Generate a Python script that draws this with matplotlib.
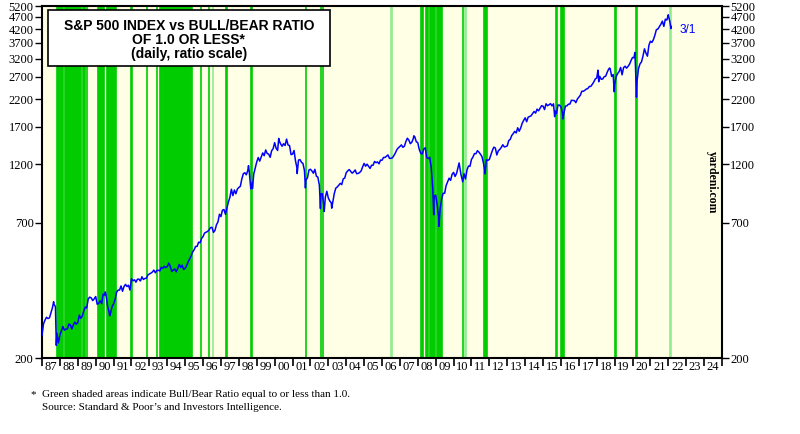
import numpy as np
import matplotlib
matplotlib.use('Agg')
import matplotlib.pyplot as plt
from matplotlib.patches import Rectangle

spx_start = 1987
spx_87_91 = [274.08, 284.20, 291.70, 288.36, 290.10, 304.00, 318.66, 329.80, 321.83, 251.79, 230.30, 247.08,
             257.07, 267.82, 258.89, 261.33, 262.16, 273.50, 272.02, 261.52, 271.91, 278.97, 273.70, 277.72,
             297.47, 288.86, 294.87, 309.64, 320.52, 317.98, 346.08, 351.45, 349.15, 340.36, 345.99, 353.40,
             329.08, 331.89, 339.94, 330.80, 361.23, 358.02, 356.15, 322.56, 306.05, 304.00, 322.22, 330.22,
             343.93, 367.07, 375.22, 375.35, 389.83, 371.16, 387.81, 395.43, 387.86, 392.46, 375.22, 417.09]
spx_92_96 = [408.79, 412.70, 403.69, 414.95, 415.35, 408.14, 424.21, 414.03, 417.80, 418.68, 431.35, 435.71,
             438.78, 443.38, 451.67, 440.19, 450.19, 450.53, 448.13, 463.56, 458.93, 467.83, 461.79, 466.45,
             481.61, 467.14, 445.77, 450.91, 456.50, 444.27, 458.26, 475.49, 462.69, 472.35, 453.69, 459.27,
             470.42, 487.39, 500.71, 514.71, 533.40, 544.75, 562.06, 561.88, 584.41, 581.50, 605.37, 615.93,
             636.02, 640.43, 645.50, 654.17, 669.12, 670.63, 639.95, 651.99, 687.31, 705.27, 757.02, 740.74]
spx_97_01 = [786.16, 790.82, 757.12, 801.34, 848.28, 885.14, 954.29, 899.47, 947.28, 914.62, 955.40, 970.43,
             980.28, 1049.34, 1101.75, 1111.75, 1090.82, 1133.84, 1120.67, 957.28, 1017.01, 1098.67, 1163.63, 1229.23,
             1279.64, 1238.33, 1286.37, 1335.18, 1301.84, 1372.71, 1328.72, 1320.41, 1282.71, 1362.93, 1388.91, 1469.25,
             1394.46, 1366.42, 1498.58, 1452.43, 1420.60, 1454.60, 1430.83, 1517.68, 1436.51, 1429.40, 1314.95, 1320.28,
             1366.01, 1239.94, 1160.33, 1249.46, 1255.82, 1224.38, 1211.23, 1133.58, 1040.94, 1059.78, 1139.45, 1148.08]
spx_02_06 = [1130.20, 1106.73, 1147.39, 1076.92, 1067.14, 989.82, 911.62, 916.07, 815.28, 885.76, 936.31, 879.82,
             855.70, 841.15, 848.18, 916.92, 963.59, 974.50, 990.31, 1008.01, 995.97, 1050.71, 1058.20, 1111.92,
             1131.13, 1144.94, 1126.21, 1107.30, 1120.68, 1140.84, 1101.72, 1104.24, 1114.58, 1130.20, 1173.82, 1211.92,
             1181.27, 1203.60, 1180.59, 1156.85, 1191.50, 1191.33, 1234.18, 1220.33, 1228.81, 1207.01, 1249.48, 1248.29,
             1280.08, 1280.66, 1294.83, 1310.61, 1270.09, 1270.20, 1276.66, 1303.82, 1335.85, 1377.94, 1400.63, 1418.30]
spx_07_11 = [1438.24, 1406.82, 1420.86, 1482.37, 1530.62, 1503.35, 1455.27, 1473.99, 1526.75, 1549.38, 1481.14, 1468.36,
             1378.55, 1330.63, 1322.70, 1385.59, 1400.38, 1280.00, 1267.38, 1282.83, 1166.36, 968.75, 896.24, 903.25,
             825.88, 735.09, 797.87, 872.81, 919.14, 919.32, 987.48, 1020.62, 1057.08, 1036.19, 1095.63, 1115.10,
             1073.87, 1104.49, 1169.43, 1186.69, 1089.41, 1030.71, 1101.60, 1049.33, 1141.20, 1183.26, 1180.55, 1257.64,
             1286.12, 1327.22, 1325.83, 1363.61, 1345.20, 1320.64, 1292.28, 1218.89, 1131.42, 1253.30, 1246.96, 1257.60]
spx_12_16 = [1312.41, 1365.68, 1408.47, 1397.91, 1310.33, 1362.16, 1379.32, 1406.58, 1440.67, 1412.16, 1416.18, 1426.19,
             1498.11, 1514.68, 1569.19, 1597.57, 1630.74, 1606.28, 1685.73, 1632.97, 1681.55, 1756.54, 1805.81, 1848.36,
             1782.59, 1859.45, 1872.34, 1883.95, 1923.57, 1960.23, 1930.67, 2003.37, 1972.29, 2018.05, 2067.56, 2058.90,
             1994.99, 2104.50, 2067.89, 2085.51, 2107.39, 2063.11, 2103.84, 1972.18, 1920.03, 2079.36, 2080.41, 2043.94,
             1940.24, 1932.23, 2059.74, 2065.30, 2096.95, 2098.86, 2173.60, 2170.95, 2168.27, 2126.15, 2198.81, 2238.83]
spx_17_22 = [2278.87, 2363.64, 2362.72, 2384.20, 2411.80, 2423.41, 2470.30, 2471.65, 2519.36, 2575.26, 2647.58, 2673.61,
             2823.81, 2713.83, 2640.87, 2648.05, 2705.27, 2718.37, 2816.29, 2901.52, 2913.98, 2711.74, 2760.17, 2506.85,
             2704.10, 2784.49, 2834.40, 2945.83, 2752.06, 2941.76, 2980.38, 2926.46, 2976.74, 3037.56, 3140.98, 3230.78,
             3225.52, 2954.22, 2584.59, 2912.43, 3044.31, 3100.29, 3271.12, 3500.31, 3363.00, 3269.96, 3621.63, 3756.07,
             3714.24, 3811.15, 3972.89, 4181.17, 4204.11, 4297.50, 4395.26, 4522.68, 4307.54, 4605.38, 4567.00, 4766.18,
             4515.55]

# intra-month highs/lows (decimal year, value)
extreme_dates = [1987.00, 1987.65, 1987.80, 1990.54, 1990.78, 1998.54, 1998.76, 2000.23, 2001.26, 2001.72,
                 2002.56, 2002.77, 2003.19, 2007.78, 2008.89, 2009.18, 2010.31, 2010.51, 2011.76, 2015.65,
                 2016.11, 2018.07, 2018.11, 2018.72, 2018.98, 2020.13, 2020.22, 2022.00, 2022.145, 2022.164]
extreme_vals = [246.45, 336.77, 224.84, 368.95, 295.46, 1186.75, 959.44, 1527.46, 1103.25, 965.80,
                797.70, 776.76, 800.73, 1565.15, 752.44, 676.53, 1217.28, 1022.58, 1099.23, 1867.61,
                1829.08, 2872.87, 2581.00, 2930.75, 2351.10, 3386.15, 2237.40, 4796.56, 4225.50, 4306.26]

# Bull/Bear ratio <= 1.0 periods (decimal years)
bb_low = [(1987.84, 1988.00), (1988.06, 1988.19), (1988.28, 1989.18), (1989.31, 1989.42), (1989.52, 1989.54),
          (1990.15, 1990.46), (1990.61, 1991.12), (1992.00, 1992.02), (1992.84, 1992.86), (1993.40, 1993.42),
          (1993.59, 1993.69), (1993.78, 1994.30), (1994.34, 1995.27), (1995.35, 1995.37), (1995.87, 1995.89),
          (1996.34, 1996.36), (1997.31, 1997.33), (1998.69, 1998.73), (2001.74, 2001.76), (2002.58, 2002.60),
          (2002.71, 2002.73), (2008.20, 2008.30), (2008.45, 2008.56), (2008.68, 2008.96), (2009.05, 2009.36),
          (2010.53, 2010.55), (2011.70, 2011.84), (2015.71, 2015.79), (2016.03, 2016.16), (2019.04, 2019.06),
          (2020.21, 2020.23)]
bb_light = [(1996.56, 1996.58), (2006.53, 2006.55), (2010.66, 2010.68), (2022.12, 2022.14)]

years = list(range(1987, 2025))
year_labels = ['%02d' % (y % 100) for y in years]
y_ticks = [200, 700, 1200, 1700, 2200, 2700, 3200, 3700, 4200, 4700, 5200]

# build the series
monthly = spx_87_91 + spx_92_96 + spx_97_01 + spx_02_06 + spx_07_11 + spx_12_16 + spx_17_22
m_dates = [spx_start + (i + 1) / 12.0 for i in range(len(monthly))]
x = np.array(m_dates + extreme_dates)
y = np.array(monthly + extreme_vals)
order = np.argsort(x)
x, y = x[order], y[order]

fig = plt.figure(figsize=(8, 4.34), dpi=100)
ax = fig.add_axes([0.0525, 0.175, 0.85, 0.811])
ax.set_facecolor('#FFFFE6')

for a, b in bb_low:
    ax.axvspan(a, b, color='#00CC00', lw=1.2, zorder=1)
for a, b in bb_light:
    ax.axvspan(a, b, color='#90EE90', lw=1.2, zorder=1)

ax.plot(x, y, color='#0000FF', lw=1.1, zorder=3)

ax.set_yscale('log')
ax.set_ylim(200, 5200)
ax.set_xlim(1987, 2025)
ax.set_yticks(y_ticks)
ax.set_yticklabels([str(v) for v in y_ticks])
ax.yaxis.set_minor_locator(matplotlib.ticker.NullLocator())
ax.tick_params(axis='y', which='major', left=True, right=True, labelleft=True, labelright=True,
               direction='out', length=5, width=1, labelsize=9, pad=1)

ax.set_xticks(years + [2025])
ax.set_xticklabels([])
ax.set_xticks([yr + 0.5 for yr in years], minor=True)
ax.set_xticklabels(year_labels, minor=True)
ax.tick_params(axis='x', which='major', direction='out', length=6, width=1.2)
ax.tick_params(axis='x', which='minor', length=0, labelsize=9, pad=2)
for lab in ax.get_xticklabels(minor=True) + ax.get_yticklabels():
    lab.set_family('Liberation Serif')

for s in ax.spines.values():
    s.set_linewidth(1.5)

# title box
ax.add_patch(Rectangle((0.0088, 0.831), 0.415, 0.158, transform=ax.transAxes,
                       facecolor='white', edgecolor='black', lw=1.2, zorder=5))
ax.text(0.216, 0.903, 'S&P 500 INDEX vs BULL/BEAR RATIO\nOF 1.0 OR LESS*\n(daily, ratio scale)',
        transform=ax.transAxes, ha='center', va='center', fontsize=10, fontweight='bold',
        family='Liberation Sans', linespacing=1.0, zorder=6)

ax.text(2022.65, 4150, '3/1', color='#0000FF', fontsize=8.5, family='Liberation Sans',
        va='center', ha='left', zorder=6)
ax.text(0.985, 0.5, 'yardeni.com', transform=ax.transAxes, rotation=-90, ha='center', va='center',
        fontsize=8.5, fontweight='bold', family='Liberation Serif', zorder=6)

fig.text(0.038, 0.09, '*', fontsize=8, family='Liberation Serif', va='center')
fig.text(0.053, 0.09, 'Green shaded areas indicate Bull/Bear Ratio equal to or less than 1.0.',
         fontsize=8, family='Liberation Serif', va='center')
fig.text(0.053, 0.062, 'Source: Standard & Poor\u2019s and Investors Intelligence.',
         fontsize=8, family='Liberation Serif', va='center')

fig.savefig('out.png', dpi=100)
